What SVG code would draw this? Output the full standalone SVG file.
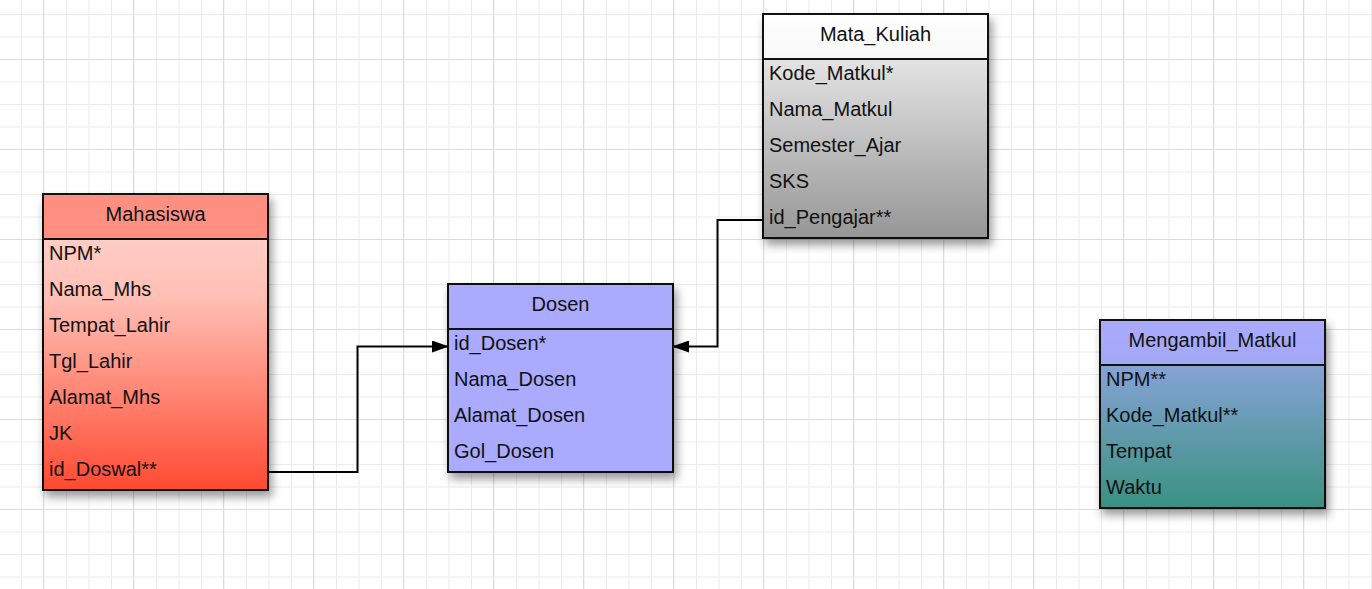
<svg xmlns="http://www.w3.org/2000/svg" width="1372" height="589" viewBox="0 0 1372 589">
<defs>
  <pattern id="gridMinor" x="21" y="14" width="22.5" height="22.5" patternUnits="userSpaceOnUse">
    <path d="M0.5 0V22.5M0 0.5H22.5" stroke="#ebebeb" stroke-width="1" fill="none"/>
  </pattern>
  <pattern id="gridMajor" x="43" y="59" width="90" height="90" patternUnits="userSpaceOnUse">
    <path d="M0.5 0V90M0 0.5H90" stroke="#dcdcdc" stroke-width="1" fill="none"/>
  </pattern>
  <filter id="shadow" x="-15%" y="-15%" width="140%" height="140%">
    <feDropShadow dx="3" dy="6" stdDeviation="5" flood-color="#000" flood-opacity="0.4"/>
  </filter>
  <linearGradient id="gMhsBody" x1="0" y1="0" x2="0" y2="1">
    <stop offset="0" stop-color="#ffb4a9"/>
    <stop offset="0.1" stop-color="#ffd1ca"/>
    <stop offset="0.35" stop-color="#ffbfb5"/>
    <stop offset="1" stop-color="#ff4a31"/>
  </linearGradient>
  <linearGradient id="gMkBody" x1="0" y1="0" x2="0" y2="1">
    <stop offset="0" stop-color="#f7f7f7"/>
    <stop offset="1" stop-color="#969696"/>
  </linearGradient>
  <linearGradient id="gMkHead" x1="0" y1="0" x2="0" y2="1">
    <stop offset="0" stop-color="#ffffff"/>
    <stop offset="1" stop-color="#f8f8f8"/>
  </linearGradient>
  <linearGradient id="gMaBody" x1="0" y1="0" x2="0" y2="1">
    <stop offset="0" stop-color="#9da8f0"/>
    <stop offset="1" stop-color="#3a9180"/>
  </linearGradient>
  <linearGradient id="gMaHead" x1="0" y1="0" x2="0" y2="1">
    <stop offset="0" stop-color="#aaaaff"/>
    <stop offset="1" stop-color="#a2a8f4"/>
  </linearGradient>
  <marker id="arrow" viewBox="0 0 17 12" refX="16" refY="6" markerWidth="17" markerHeight="12" markerUnits="userSpaceOnUse" orient="auto">
    <path d="M0 0L17 6L0 12Z" fill="#000"/>
  </marker>
  <style>
    .box { stroke: #111; stroke-width: 2; }
    .sep { stroke: #111; stroke-width: 2; }
    .title { font-family: "Liberation Sans", Arial, sans-serif; font-size: 20px; fill: #111; text-anchor: middle; }
    .row { font-family: "Liberation Sans", Arial, sans-serif; font-size: 20px; fill: #111; }
    .conn { fill: none; stroke: #000; stroke-width: 2; }
  </style>
</defs>

<rect width="1372" height="589" fill="#ffffff"/>
<rect width="1372" height="589" fill="url(#gridMinor)"/>
<rect width="1372" height="589" fill="url(#gridMajor)"/>

<g id="connectors">
  <path class="conn" d="M268 472H357.5V346.5H448" marker-end="url(#arrow)"/>
  <path class="conn" d="M763 220H717.5V346.5H673" marker-end="url(#arrow)"/>
</g>

<g id="Mahasiswa">
  <g filter="url(#shadow)">
    <rect x="43" y="194" width="225" height="296" fill="url(#gMhsBody)" class="box"/>
  </g>
  <rect x="43" y="194" width="225" height="45" fill="#ff8f80" class="box"/>
  <text class="title" x="155.5" y="221">Mahasiswa</text>
  <text class="row" x="49" y="260">NPM*</text>
  <text class="row" x="49" y="296">Nama_Mhs</text>
  <text class="row" x="49" y="332">Tempat_Lahir</text>
  <text class="row" x="49" y="368">Tgl_Lahir</text>
  <text class="row" x="49" y="404">Alamat_Mhs</text>
  <text class="row" x="49" y="440">JK</text>
  <text class="row" x="49" y="476">id_Doswal**</text>
</g>

<g id="Dosen">
  <g filter="url(#shadow)">
    <rect x="448" y="284" width="225" height="188" fill="#aaaaff" class="box"/>
  </g>
  <line x1="448" y1="329" x2="673" y2="329" class="sep"/>
  <text class="title" x="560.5" y="311">Dosen</text>
  <text class="row" x="454" y="350">id_Dosen*</text>
  <text class="row" x="454" y="386">Nama_Dosen</text>
  <text class="row" x="454" y="422">Alamat_Dosen</text>
  <text class="row" x="454" y="458">Gol_Dosen</text>
</g>

<g id="Mata_Kuliah">
  <g filter="url(#shadow)">
    <rect x="763" y="14" width="225" height="224" fill="url(#gMkBody)" class="box"/>
  </g>
  <rect x="763" y="14" width="225" height="45" fill="url(#gMkHead)" class="box"/>
  <text class="title" x="875.5" y="41">Mata_Kuliah</text>
  <text class="row" x="769" y="80">Kode_Matkul*</text>
  <text class="row" x="769" y="116">Nama_Matkul</text>
  <text class="row" x="769" y="152">Semester_Ajar</text>
  <text class="row" x="769" y="188">SKS</text>
  <text class="row" x="769" y="224">id_Pengajar**</text>
</g>

<g id="Mengambil_Matkul">
  <g filter="url(#shadow)">
    <rect x="1100" y="320" width="225" height="188" fill="url(#gMaBody)" class="box"/>
  </g>
  <rect x="1100" y="320" width="225" height="45" fill="url(#gMaHead)" class="box"/>
  <text class="title" x="1212.5" y="347">Mengambil_Matkul</text>
  <text class="row" x="1106" y="386">NPM**</text>
  <text class="row" x="1106" y="422">Kode_Matkul**</text>
  <text class="row" x="1106" y="458">Tempat</text>
  <text class="row" x="1106" y="494">Waktu</text>
</g>
</svg>
